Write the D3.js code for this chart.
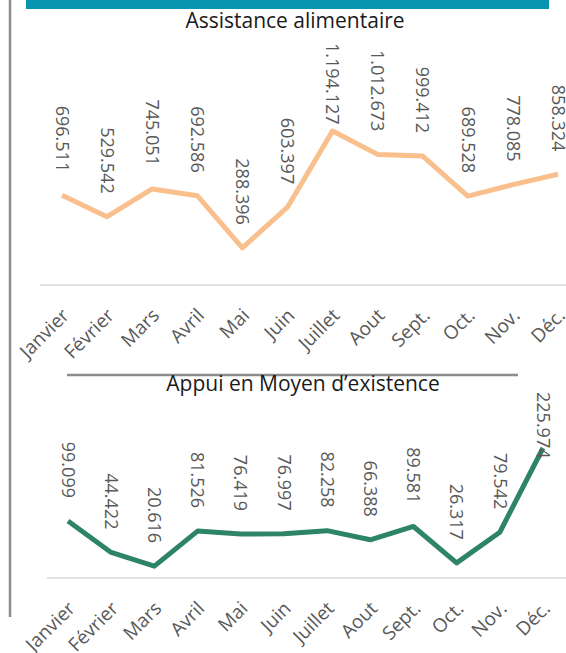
<!DOCTYPE html>
<html>
  <head>
    <meta charset="utf-8">
    <title>Assistance alimentaire / Appui en Moyen d'existence</title>
    <script src="https://d3js.org/d3.v7.min.js"></script>
    <style>
      body { margin: 0; background: #fff; }
      text { font-family: "Open Sans", sans-serif; }
      .label { fill: #595959; font-size: 18px; }
      .month { fill: #595959; font-size: 19px; }
      .title { fill: #1a1a1a; font-size: 21px; }
    </style>
  </head>
  <body>
    <svg width="566" height="653"></svg>
    <script>
      // months shared by both panels
      const months = ["Janvier", "Février", "Mars", "Avril", "Mai", "Juin",
                      "Juillet", "Aout", "Sept.", "Oct.", "Nov.", "Déc."];

      // Assistance alimentaire
      const alimentaire = [696511, 529542, 745051, 692586, 288396, 603397,
                           1194127, 1012673, 999412, 689528, 778085, 858324];

      // Appui en Moyen d'existence
      const moyens = [99099, 44422, 20616, 81526, 76419, 76997,
                      82258, 66388, 89581, 26317, 79542, 225974];

      const fmt = d3.formatLocale({ decimal: ",", thousands: ".", grouping: [3], currency: ["", ""] }).format(",d");

      const svg = d3.select("svg");

      // teal band at top and grey frame lines
      svg.append("rect")
        .attr("x", 26).attr("y", 0)
        .attr("width", 523).attr("height", 9)
        .attr("fill", "#0795b0");

      svg.append("line")
        .attr("x1", 10).attr("x2", 10)
        .attr("y1", 0).attr("y2", 617)
        .attr("stroke", "#8c8c8c").attr("stroke-width", 2.5);

      svg.append("line")
        .attr("x1", 67).attr("x2", 518)
        .attr("y1", 375).attr("y2", 375)
        .attr("stroke", "#8c8c8c").attr("stroke-width", 2.5);

      // draw one panel
      function panel(values, opt) {
        const data = months.map((m, i) => ({ month: m, value: values[i] }));

        const x = d3.scalePoint()
          .domain(months)
          .range([opt.x0, opt.x1]);

        const y = d3.scaleLinear()
          .domain([0, d3.max(values)])
          .range([opt.base, opt.peak]);

        svg.append("text")
          .attr("class", "title")
          .attr("x", opt.titleX)
          .attr("y", opt.titleY)
          .attr("text-anchor", "middle")
          .text(opt.title);

        // baseline
        svg.append("line")
          .attr("x1", opt.gridX).attr("x2", 566)
          .attr("y1", opt.base).attr("y2", opt.base)
          .attr("stroke", "#d9d9d9").attr("stroke-width", 1.5);

        // month labels
        const axis = d3.axisBottom(x).tickSize(0).tickPadding(0);
        const g = svg.append("g")
          .attr("transform", `translate(0,${opt.base})`)
          .call(axis);
        g.select(".domain").remove();
        g.selectAll("text")
          .attr("class", "month")
          .attr("font-size", null)
          .attr("font-family", null)
          .attr("text-anchor", "end")
          .attr("y", 0).attr("dy", "0.35em")
          .attr("transform", "translate(3,27) rotate(-45)");

        const line = d3.line()
          .x(d => x(d.month))
          .y(d => y(d.value));

        svg.append("path")
          .datum(data)
          .attr("d", line)
          .attr("fill", "none")
          .attr("stroke", opt.color)
          .attr("stroke-width", 5)
          .attr("stroke-linejoin", "round");

        // vertical value labels
        svg.selectAll(null)
          .data(data)
          .enter().append("text")
          .attr("class", "label")
          .attr("text-anchor", "end")
          .attr("dy", "0.35em")
          .text(d => fmt(d.value))
          .each(function (d) {
            const len = this.getComputedTextLength();
            let end = y(d.value) - 23;
            if (end - len < opt.top) end = opt.top + len;
            d3.select(this).attr("transform", `translate(${x(d.month)},${end}) rotate(90)`);
          });
      }

      panel(alimentaire, {
        title: "Assistance alimentaire", titleX: 295, titleY: 28,
        x0: 62, x1: 558, base: 285, peak: 131, top: 43, gridX: 40,
        color: "#f9c08e"
      });

      panel(moyens, {
        title: "Appui en Moyen d\u2019existence", titleX: 303, titleY: 391,
        x0: 68, x1: 543, base: 578, peak: 448, top: 392, gridX: 47,
        color: "#2e8468"
      });
    </script>
  </body>
</html>
